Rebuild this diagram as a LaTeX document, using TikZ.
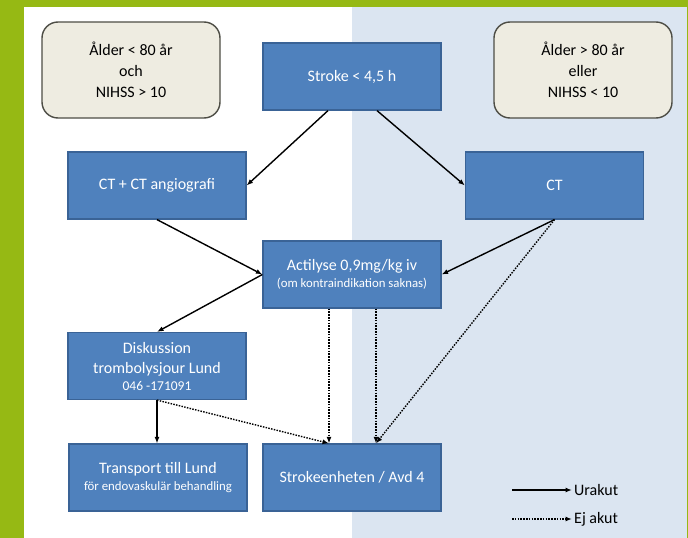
\documentclass[tikz,border=0pt]{standalone}
\usepackage{fontspec}
\setmainfont{Carlito}
\usepackage{xcolor}
\usetikzlibrary{arrows.meta,positioning}
\definecolor{frame}{HTML}{96B914}
\definecolor{pale}{HTML}{DBE5F1}
\definecolor{boxblue}{HTML}{4F81BD}
\definecolor{boxedge}{HTML}{3A6396}
\definecolor{beige}{HTML}{EEECE1}
\definecolor{beigeedge}{HTML}{4D4D45}
\tikzset{
  block/.style={draw=boxedge,fill=boxblue,line width=1.2pt,text=white,align=center,
    minimum width=178pt,minimum height=67pt,inner sep=2pt,font=\fontsize{16}{20}\selectfont},
  cond/.style={draw=beigeedge,fill=beige,rounded corners=16pt,line width=1.4pt,align=center,
    minimum width=178pt,minimum height=96pt,font=\fontsize{16}{21}\selectfont},
  arr/.style={-{Latex[length=6.5pt,width=5pt]},line width=1.4pt,draw=black},
  dots/.style={arr,dash pattern=on 1.5pt off 1.3pt},
  legend/.style={anchor=west,inner sep=2pt,font=\fontsize{16}{20}\selectfont}
}
\newcommand{\smalltxt}[1]{{\fontsize{12.8}{15}\selectfont #1}}

\begin{document}
\begin{tikzpicture}[x=1pt,y=-1pt]
 \useasboundingbox (0,0) rectangle (688,538);
 % background panels
 \fill[frame] (0,0) rectangle (688,538);
 \fill[white] (24,7) rectangle (352,538);
 \fill[pale] (352,7) rectangle (686.7,538);

 % conditions
 \node[cond] (young) at (131,70) {Ålder < 80 år\\och\\NIHSS > 10};
 \node[cond] (old) at (583,70) {Ålder > 80 år\\eller\\NIHSS < 10};

 % flow boxes
 \node[block] (stroke) at (352,76.5) {Stroke < 4,5 h};
 \node[block] (ctang) at (157,185.5) {CT + CT angiografi};
 \node[block] (ct) at (554.5,185.5) {CT};
 \node[block] (actil) at (352,274.5) {Actilyse 0,9mg/kg iv\\[-3pt]\smalltxt{(om kontraindikation saknas)}};
 \node[block] (disk) at (157,366) {Diskussion\\trombolysjour Lund\\[-3pt]{\fontsize{13.5}{15}\selectfont 046 -171091}};
 \node[block] (transp) at (158,477.5) {Transport till Lund\\[-3pt]\smalltxt{för endovaskulär behandling}};
 \node[block] (unit) at (352,477.5) {Strokeenheten / Avd 4};

 % urgent paths
 \draw[arr] ([xshift=-24pt]stroke.south) -- (ctang.east);
 \draw[arr] ([xshift=25pt]stroke.south) -- (ct.west);
 \draw[arr] (ctang.south) -- (actil.west);
 \draw[arr] (ct.south) -- (actil.east);
 \draw[arr] (actil.west) -- (disk.north);
 \draw[arr] (disk.south) -- (transp.north -| disk.south);

 % non-urgent paths
 \draw[dots] (disk.south) -- ([xshift=-23pt]unit.north);
 \draw[dots] ([xshift=-23pt]actil.south) -- ([xshift=-23pt]unit.north);
 \draw[dots] ([xshift=24pt]actil.south) -- ([xshift=24pt]unit.north);
 \draw[dots] (ct.south) -- ([xshift=24pt]unit.north);

 % legend
 \coordinate (solidstart) at (512,490);
 \coordinate (dotstart) at (512,519);
 \node[legend] (urakut) at (572,490) {Urakut};
 \node[legend] (ejakut) at (572,519) {Ej akut};
 \draw[arr] (solidstart) -- (urakut.west);
 \draw[dots] (dotstart) -- (ejakut.west);
\end{tikzpicture}
\end{document}
